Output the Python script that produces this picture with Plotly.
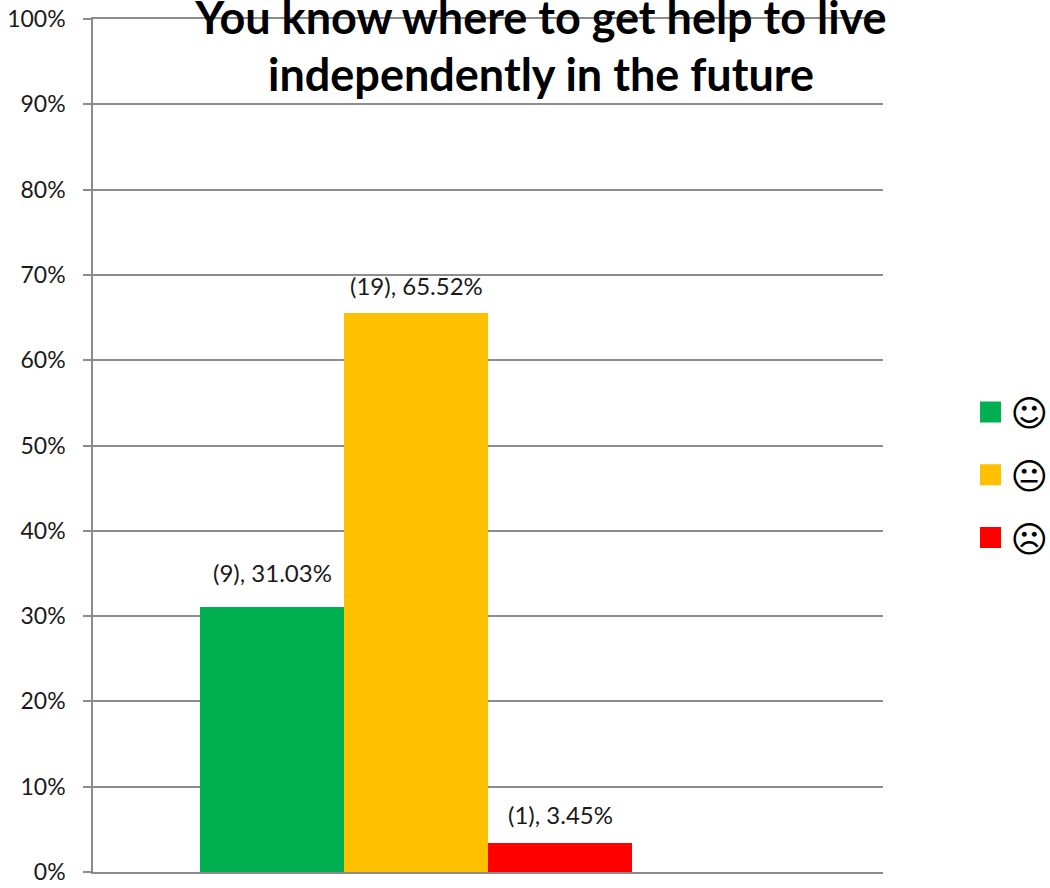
import plotly.graph_objects as go

categories = ["\u263A", "\U0001F610", "\u2639"]
values = [31.03, 65.52, 3.45]
counts = [9, 19, 1]
colors = ["#00B050", "#FFC000", "#FF0000"]
y_ticks = list(range(0, 101, 10))
y_labels = [f"{t}%" for t in y_ticks]
title_lines = ["You know where to get help to live", "independently in the future"]
positions = [0, 1, 2]
label_shifts = [35, 28, 28]

GRID = "#8C8C8C"
FONT = "Lato, Carlito, sans-serif"

fig = go.Figure()
fig.add_trace(go.Bar(x=positions, y=values, width=1, marker=dict(color=colors, line=dict(width=0)),
                     showlegend=False, hoverinfo="skip"))
for name, c in zip(categories, colors):
    fig.add_trace(go.Scatter(x=[None], y=[None], mode="markers", name=name, legendgroup=name,
                             marker=dict(symbol="square", size=16, color=c, line=dict(color=c, width=5))))

for x, v, n, s in zip(positions, values, counts, label_shifts):
    fig.add_annotation(x=x, y=v, text=f"({n}), {v:.2f}%", showarrow=False, yshift=s,
                       font=dict(family=FONT, size=24, color="#1a1a1a"))

title = "<br>".join(f'<span style="font-size:45px">{t}</span>' for t in title_lines)
fig.update_layout(
    width=1050, height=888, autosize=False,
    margin=dict(l=93, r=167, t=19, b=16, autoexpand=False),
    paper_bgcolor="white", plot_bgcolor="white",
    font=dict(family=FONT, color="#1a1a1a"),
    title=dict(text=title, x=541/1050, xanchor="center", y=1-34/888, yanchor="middle",
               font=dict(family=FONT, size=44, color="black", weight="bold"), automargin=False),
    xaxis=dict(range=[-1.243, 4.243], showticklabels=False, showgrid=False, zeroline=False,
               ticks="", showline=True, linecolor=GRID, linewidth=1.5, mirror=True, fixedrange=True),
    yaxis=dict(range=[0, 100], tickvals=y_ticks, ticktext=y_labels, ticks="outside", ticklen=8,
               tickwidth=1.5, tickcolor=GRID, gridcolor=GRID, gridwidth=1.5, showline=True,
               linecolor=GRID, linewidth=1.5, zeroline=False, tickfont=dict(size=23, family=FONT, color="#1a1a1a"),
               ticklabelstandoff=13, fixedrange=True),
    legend=dict(x=(970.5-93)/790, y=(871-474)/853, yanchor="middle", xanchor="left",
                tracegroupgap=13, font=dict(family="DejaVu Sans", size=36, color="black"),
                itemsizing="trace", bgcolor="rgba(0,0,0,0)"),
    bargap=0,
)
fig.write_html("out.html", post_script="document.body.style.margin='0';", config=dict(displayModeBar=False))
